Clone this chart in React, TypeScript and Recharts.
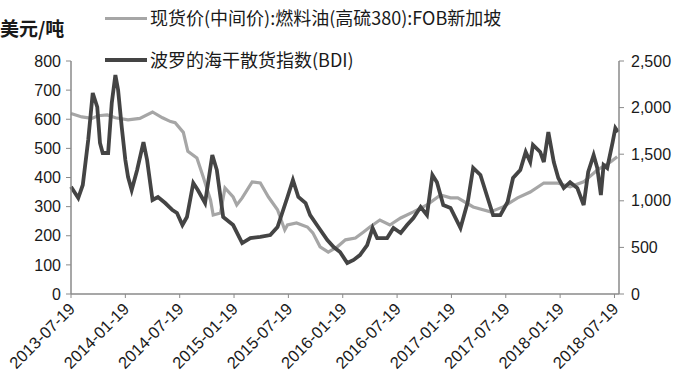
import { LineChart, Line, XAxis, YAxis } from "recharts";

// months counted from 2013-07-19
const tickLabels = [
  "2013-07-19", "2014-01-19", "2014-07-19", "2015-01-19", "2015-07-19", "2016-01-19",
  "2016-07-19", "2017-01-19", "2017-07-19", "2018-01-19", "2018-07-19",
];
const xTicks = [0, 6, 12, 18, 24, 30, 36, 42, 48, 54, 60];

const fuelMonths = [
  0, 1.2, 2.3, 3.0, 4.0, 4.9, 6.3, 7.6, 9.0, 10.1, 11.0, 11.5, 12.4, 12.9, 13.9, 14.6,
  15.4, 15.7, 16.5, 17.0, 17.9, 18.3, 18.9, 20.0, 20.9, 21.8, 22.8, 23.6, 23.9, 24.9,
  26.1, 26.7, 27.5, 28.4, 29.4, 30.3, 31.4, 32.3, 33.0, 34.1, 35.2, 36.4, 37.8, 39.3,
  40.8, 41.9, 42.7, 44.4, 46.3, 47.7, 49.3, 50.7, 52.2, 53.7, 55.1, 56.6, 58.1, 59.6, 60.3,
];
const fuelPrice = [
  620, 608, 603, 612, 615, 605, 598, 603, 625, 605, 592, 588, 555, 490, 467, 402,
  323, 271, 278, 364, 333, 306, 330, 385, 381, 333, 289, 220, 237, 244,
  230, 210, 162, 144, 162, 186, 192, 213, 230, 254, 237, 261, 282, 306,
  340, 330, 330, 299, 282, 299, 330, 350, 381, 381, 368, 385, 426, 454, 471,
];

const bdiMonths = [
  0, 0.8, 1.3, 1.9, 2.4, 2.9, 3.2, 3.5, 4.1, 4.5, 4.9, 5.2, 5.6, 6.0, 6.3, 6.7, 7.3,
  8.0, 8.4, 9.0, 9.6, 10.4, 11.2, 11.7, 12.3, 12.8, 13.5, 14.0, 14.8, 15.6, 16.1,
  16.8, 17.9, 18.9, 19.8, 20.9, 22.0, 22.8, 23.9, 24.5, 25.1, 25.9, 26.4, 27.3,
  28.3, 29.0, 29.7, 30.5, 31.2, 31.9, 32.7, 33.3, 33.8, 34.9, 35.6, 36.4, 37.1,
  37.8, 38.6, 39.3, 39.9, 40.4, 41.1, 41.9, 43.0, 43.8, 44.4, 45.2, 46.0, 46.6,
  47.4, 48.2, 48.8, 49.6, 50.2, 50.7, 51.0, 51.8, 52.2, 52.7, 53.3, 53.8, 54.4,
  55.1, 55.9, 56.6, 57.1, 57.7, 58.1, 58.5, 58.8, 59.2, 59.8, 60.1, 60.4,
];
const bdiIndex = [
  1150, 1030, 1170, 1652, 2157, 2006, 1620, 1513, 1513, 2049, 2350, 2189, 1792, 1438, 1255, 1116, 1330,
  1630, 1438, 1009, 1041, 976, 901, 869, 740, 826, 1191, 1116, 976, 1491, 1330,
  826, 740, 547, 600, 612, 633, 719, 1041, 1223, 1041, 976, 847, 719,
  579, 504, 451, 333, 365, 418, 525, 708, 600, 600, 708, 655, 740,
  815, 933, 847, 1277, 1200, 955, 923, 708, 987, 1352, 1277, 1030, 847,
  847, 987, 1245, 1330, 1524, 1416, 1600, 1524, 1416, 1738, 1416, 1245, 1137,
  1200, 1137, 955, 1309, 1491, 1352, 1062, 1384, 1352, 1630, 1781, 1738,
];

const fuelData = fuelMonths.map((m, i) => ({ m, fuel: fuelPrice[i] }));
const bdiData = bdiMonths.map((m, i) => ({ m, bdi: bdiIndex[i] }));

const FONT = "'Liberation Sans', Arial, 'Noto Sans CJK SC', sans-serif";
const CJK = "'Noto Sans CJK SC', sans-serif";
const AXIS = "#8a8a8a";

function DateTick(props: any) {
  const { x, y, payload } = props;
  const i = xTicks.indexOf(payload.value);
  const ax = x + 5;
  const ay = y + 10;
  return (
    <text
      x={ax}
      y={ay}
      transform={`rotate(-45, ${ax}, ${ay})`}
      textAnchor="end"
      fontSize={16.5}
      fontFamily={FONT}
      fill="#1a1a1a"
    >
      {tickLabels[i]}
    </text>
  );
}

const fmtRight = (v: number) => v.toLocaleString("en-US");

export default function App() {
  return (
    <div style={{ position: "absolute", left: 0, top: 0, width: 690, height: 390, background: "#fff", fontFamily: FONT }}>
      <div style={{ position: "absolute", left: 0, top: 14, fontSize: 19, fontWeight: "bold", color: "#1a1a1a", fontFamily: CJK }}>
        美元/吨
      </div>
      <div style={{ position: "absolute", left: 105, top: 17, width: 42, height: 3, background: "#a6a6a6" }} />
      <div style={{ position: "absolute", left: 150, top: 4, fontSize: 18, color: "#1a1a1a", whiteSpace: "nowrap", fontFamily: CJK }}>
        现货价(中间价):燃料油(高硫380):FOB新加坡
      </div>
      <div style={{ position: "absolute", left: 105, top: 58, width: 42, height: 4, background: "#444" }} />
      <div style={{ position: "absolute", left: 150, top: 46, fontSize: 18, color: "#1a1a1a", whiteSpace: "nowrap", fontFamily: CJK }}>
        波罗的海干散货指数(BDI)
      </div>
      <LineChart width={690} height={390} margin={{ top: 61, right: 0, bottom: 0, left: 0 }}>
        <XAxis
          xAxisId="x"
          type="number"
          dataKey="m"
          domain={[0, 60.5]}
          ticks={xTicks}
          interval={0}
          height={96}
          tick={<DateTick />}
          tickSize={4}
          axisLine={{ stroke: AXIS, strokeWidth: 1.5 }}
          tickLine={{ stroke: AXIS }}
          allowDuplicatedCategory={false}
        />
        <YAxis
          yAxisId="left"
          orientation="left"
          width={71}
          domain={[0, 800]}
          ticks={[0, 100, 200, 300, 400, 500, 600, 700, 800]}
          tickSize={5}
          tickMargin={5}
          axisLine={{ stroke: AXIS, strokeWidth: 1.5 }}
          tickLine={{ stroke: AXIS }}
          tick={{ fontSize: 16, fill: "#1a1a1a", fontFamily: FONT }}
        />
        <YAxis
          yAxisId="right"
          orientation="right"
          width={71}
          domain={[0, 2500]}
          ticks={[0, 500, 1000, 1500, 2000, 2500]}
          tickFormatter={fmtRight}
          tickSize={5}
          tickMargin={7}
          axisLine={{ stroke: AXIS, strokeWidth: 1.5 }}
          tickLine={{ stroke: AXIS }}
          tick={{ fontSize: 16, fill: "#1a1a1a", fontFamily: FONT }}
        />
        <Line
          xAxisId="x"
          yAxisId="left"
          data={fuelData}
          dataKey="fuel"
          type="linear"
          stroke="#a6a6a6"
          strokeWidth={3.2}
          dot={false}
          isAnimationActive={false}
        />
        <Line
          xAxisId="x"
          yAxisId="right"
          data={bdiData}
          dataKey="bdi"
          type="linear"
          stroke="#444444"
          strokeWidth={3.8}
          dot={false}
          isAnimationActive={false}
        />
      </LineChart>
    </div>
  );
}
